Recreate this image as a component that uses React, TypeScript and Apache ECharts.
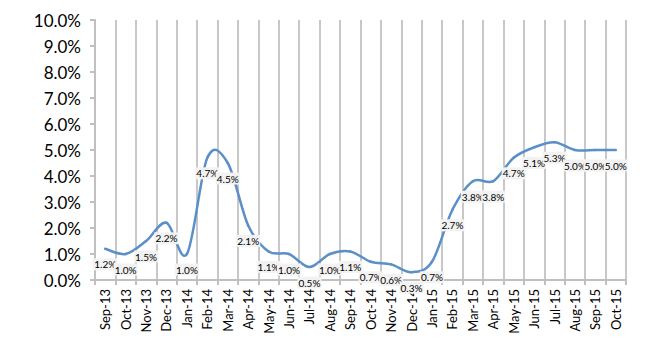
import React, { useEffect, useRef } from "react";
import * as echarts from "echarts";

const categories = [
  "Sep-13", "Oct-13", "Nov-13", "Dec-13", "Jan-14", "Feb-14", "Mar-14", "Apr-14",
  "May-14", "Jun-14", "Jul-14", "Aug-14", "Sep-14", "Oct-14", "Nov-14", "Dec-14",
  "Jan-15", "Feb-15", "Mar-15", "Apr-15", "May-15", "Jun-15", "Jul-15", "Aug-15",
  "Sep-15", "Oct-15",
];
const values = [
  1.2, 1.0, 1.5, 2.2, 1.0, 4.7, 4.5, 2.1, 1.1, 1.0, 0.5, 1.0, 1.1, 0.7, 0.6, 0.3,
  0.7, 2.7, 3.8, 3.8, 4.7, 5.1, 5.3, 5.0, 5.0, 5.0,
];

const LINE_COLOR = "#5b8fc8";

export default function App() {
  const ref = useRef<HTMLDivElement>(null);
  useEffect(() => {
    if (!ref.current) return;
    const chart = echarts.init(ref.current, null, { renderer: "svg" });
    const n = values.length;
    chart.setOption({
      animation: false,
      grid: { left: 87, right: 16, top: 12, bottom: 62 },
      xAxis: {
        type: "category",
        data: categories,
        boundaryGap: true,
        axisLine: { lineStyle: { color: "#c0c0c0", width: 2 } },
        axisTick: { show: true, interval: 0, length: 5, lineStyle: { color: "#c0c0c0", width: 2 } },
        axisLabel: {
          interval: 0,
          rotate: 90,
          margin: 9,
          color: "#000",
          fontFamily: "Lato",
          fontSize: 13,
        },
        splitLine: { show: true, interval: 0, lineStyle: { color: "#c8c8c8", width: 2 } },
      },
      yAxis: {
        type: "value",
        min: 0,
        max: 10,
        interval: 1,
        axisLine: { show: true, lineStyle: { color: "#c0c0c0", width: 2 } },
        axisTick: { show: true, length: 5, lineStyle: { color: "#c0c0c0", width: 2 } },
        axisLabel: {
          formatter: (v: number) => v.toFixed(1) + "%",
          color: "#000",
          fontFamily: "Lato",
          fontSize: 17,
          margin: 14,
        },
        splitLine: { show: false },
      },
      series: [
        {
          type: "custom",
          data: values.map((v, i) => [i, v]),
          encode: { x: 0, y: 1 },
          silent: true,
          z: 2,
          renderItem: (params: any, api: any) => {
            const i = params.dataIndex;
            if (i >= n - 1) return null;
            const c = (k: number) => {
              const kk = Math.max(0, Math.min(n - 1, k));
              return api.coord([kk, values[kk]]);
            };
            const p0 = c(i - 1);
            const p1 = c(i);
            const p2 = c(i + 1);
            const p3 = c(i + 2);
            const t = 1 / 6;
            return {
              type: "bezierCurve",
              shape: {
                x1: p1[0],
                y1: p1[1],
                x2: p2[0],
                y2: p2[1],
                cpx1: p1[0] + (p2[0] - p0[0]) * t,
                cpy1: p1[1] + (p2[1] - p0[1]) * t,
                cpx2: p2[0] - (p3[0] - p1[0]) * t,
                cpy2: p2[1] - (p3[1] - p1[1]) * t,
              },
              style: { stroke: LINE_COLOR, lineWidth: 2.5, fill: null, lineCap: "round" },
            };
          },
        },
        {
          type: "line",
          data: values,
          z: 3,
          symbol: "circle",
          symbolSize: 1,
          showSymbol: true,
          itemStyle: { color: "rgba(0,0,0,0)" },
          lineStyle: { width: 0, opacity: 0 },
          label: {
            show: true,
            position: "bottom",
            distance: 9,
            formatter: (p: any) => Number(p.value).toFixed(1) + "%",
            color: "#000",
            fontFamily: "Lato",
            fontSize: 10,
            backgroundColor: "#f2f2f2",
            padding: [1, 1],
          },
        },
      ],
    });
    return () => chart.dispose();
  }, []);
  return <div ref={ref} style={{ width: 634, height: 334 }} />;
}
